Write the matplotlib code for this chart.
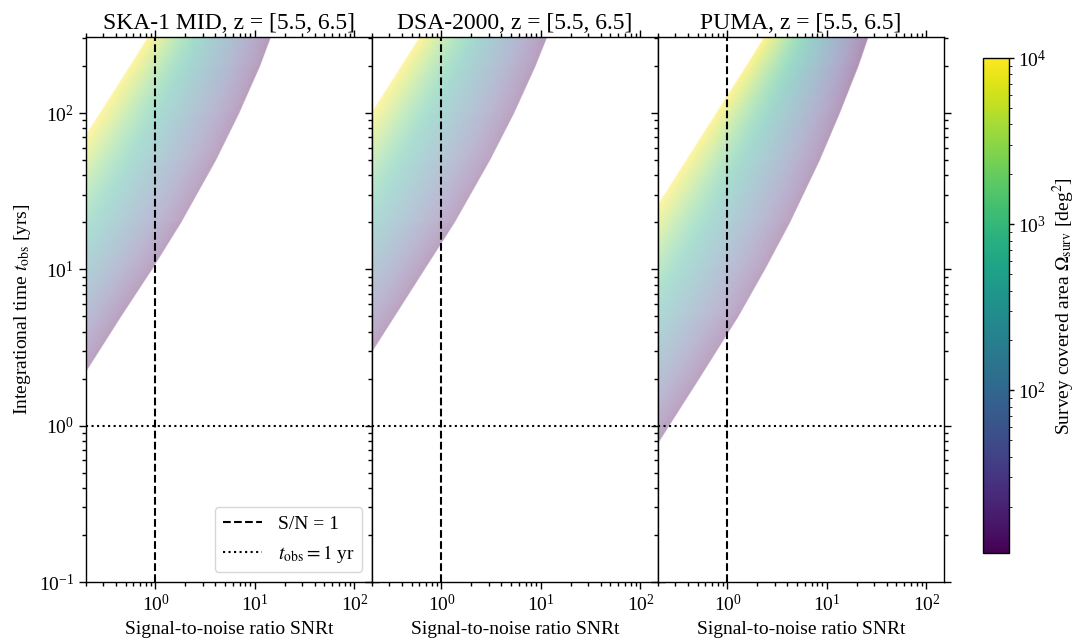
import numpy as np
import matplotlib.pyplot as plt
from matplotlib.colors import LogNorm
from matplotlib.cm import ScalarMappable

plt.rcParams['font.family'] = ['Liberation Serif', 'DejaVu Serif']
plt.rcParams['mathtext.fontset'] = 'stix'
plt.rcParams['axes.linewidth'] = 1.0

# panels
titles = ['SKA-1 MID, z = [5.5, 6.5]', 'DSA-2000, z = [5.5, 6.5]', 'PUMA, z = [5.5, 6.5]']

t_levels = [0.1, 0.2, 0.5, 1, 2, 5, 10, 20, 50, 100, 200, 500, 1000]

# SNR of the largest-area curve (1e4 deg^2, yellow edge) at t_levels
snr_large = [
    [0.00028, 0.00056, 0.0014, 0.0028, 0.0056, 0.014, 0.028, 0.056, 0.14, 0.28, 0.56, 1.38, 2.7],  # SKA-1 MID
    [0.0002, 0.0004, 0.001, 0.002, 0.004, 0.01, 0.02, 0.04, 0.1, 0.2, 0.4, 0.99, 1.95],           # DSA-2000
    [0.00078, 0.00156, 0.0039, 0.0078, 0.0156, 0.039, 0.078, 0.156, 0.39, 0.78, 1.56, 3.8, 7.3],  # PUMA
]
# SNR of the smallest-area curve (purple edge) at t_levels
snr_small = [
    [0.0089, 0.0178, 0.0445, 0.089, 0.178, 0.445, 0.91, 1.79, 4.0, 6.85, 11.1, 19.0, 27.0],
    [0.00667, 0.0133, 0.0333, 0.0667, 0.133, 0.333, 0.667, 1.34, 3.03, 5.3, 8.7, 15.5, 22.0],
    [0.0256, 0.0513, 0.128, 0.256, 0.513, 1.27, 2.35, 4.2, 8.36, 13.3, 20.5, 33.6, 46.6],
]

# survey area range from the colour bar [deg^2]
area_min, area_max = 10.5, 1.0e4
n_lines = 120

cmap = plt.get_cmap('viridis')
norm = LogNorm(vmin=area_min, vmax=area_max)
areas = np.geomspace(area_max, area_min, n_lines)

fig = plt.figure(figsize=(10.8, 6.39), dpi=100)
axes = []
for i in range(3):
    ax = fig.add_axes([0.0796 + i * 0.2648, 0.0892, 0.2648, 0.853],
                      sharey=axes[0] if axes else None)
    axes.append(ax)

    lo_l = np.log10(snr_large[i])
    lo_s = np.log10(snr_small[i])
    for a in areas:
        f = (np.log10(area_max) - np.log10(a)) / (np.log10(area_max) - np.log10(area_min))
        snr = 10 ** ((1 - f) * lo_l + f * lo_s)
        ax.plot(snr, t_levels, color=cmap(norm(a)), lw=1.0, alpha=0.3)

    ax.axvline(1, color='k', ls='--', lw=1.5, label='S/N = 1')
    ax.axhline(1, color='k', ls=':', lw=1.5, label=r'$t_{\rm obs} = 1$ yr')

    ax.set_xscale('log')
    ax.set_yscale('log')
    ax.set_xlim(0.2, 150)
    ax.set_ylim(0.1, 307)
    ax.set_title(titles[i], fontsize=17)
    ax.set_xlabel('Signal-to-noise ratio SNRt', fontsize=14)
    ax.tick_params(which='both', direction='out', top=True, right=True, labelsize=14, width=1.0)
    ax.tick_params(which='major', length=5)
    ax.tick_params(which='minor', length=2.8)
    if i > 0:
        ax.tick_params(labelleft=False)

axes[0].set_ylabel(r'Integrational time $t_{\rm obs}$ [yrs]', fontsize=14)
axes[0].legend(loc='lower right', fontsize=14)

cax = fig.add_axes([0.910, 0.1346, 0.024, 0.774])
cb = fig.colorbar(ScalarMappable(norm=norm, cmap=cmap), cax=cax)
cb.set_label(r'Survey covered area $\Omega_{\rm surv}$ [deg$^2$]', fontsize=14, labelpad=3)
cb.ax.tick_params(labelsize=14, width=1.0)
cb.outline.set_linewidth(1.0)

fig.savefig('out.png', dpi=100)
